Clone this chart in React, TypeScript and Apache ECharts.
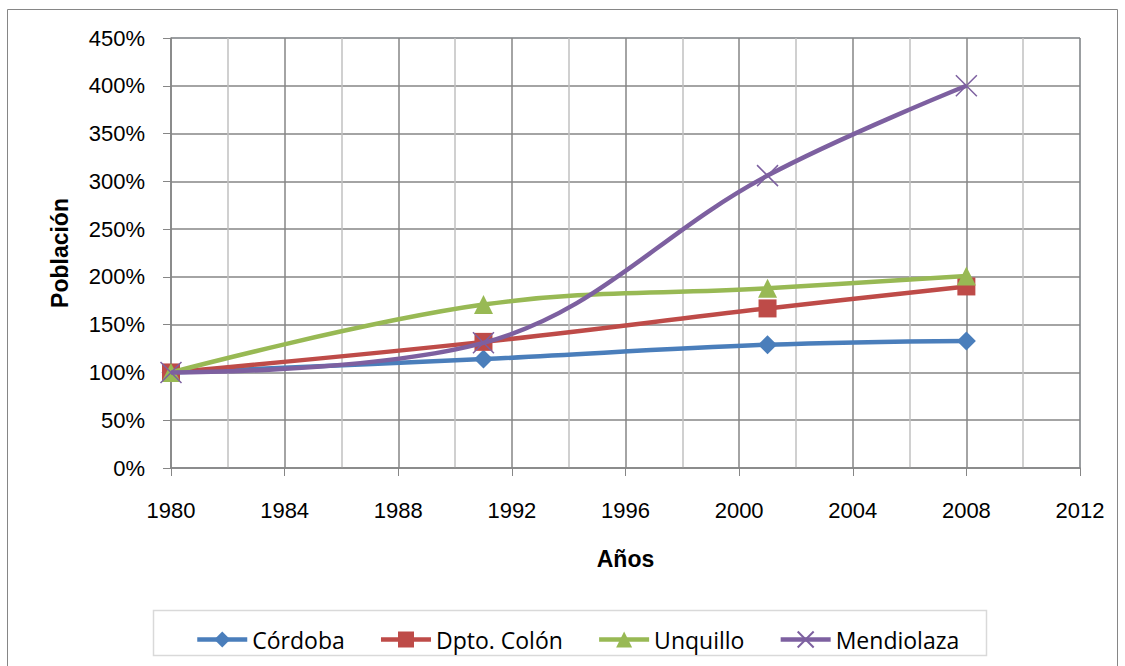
import React, { useEffect, useRef } from "react";
import * as echarts from "echarts";

const years = [1980, 1991, 2001, 2008];
const cordoba = [100, 114, 129, 133];
const colon = [100, 132, 167, 190];
const unquillo = [100, 171, 188, 201];
const mendiolaza = [100, 131, 306, 400];
const seriesNames = ["Córdoba", "Dpto. Colón", "Unquillo", "Mendiolaza"];
const colors = ["#4a7ebb", "#be4b48", "#98b954", "#7d60a0"];

const pairs = (vals: number[]) => years.map((y, i) => [y, vals[i]]);

const AX = "Liberation Sans, Arial, sans-serif";

export default function App() {
  const ref = useRef<HTMLDivElement>(null);
  useEffect(() => {
    const chart = echarts.init(ref.current!, null, { renderer: "svg" });
    const mk = (i: number, vals: number[], symbol: string, size: number, extra: any = {}) => ({
      name: seriesNames[i],
      type: "line",
      data: pairs(vals),
      smooth: 0.38,
      symbol,
      symbolSize: size,
      showAllSymbol: true,
      lineStyle: { width: 4.5, color: colors[i] },
      itemStyle: { color: colors[i], ...extra },
      z: 2 + i,
    });
    chart.setOption({
      animation: false,
      backgroundColor: "#ffffff",
      graphic: [
        {
          type: "rect",
          shape: { x: 7.5, y: 9.5, width: 1110, height: 680 },
          style: { fill: "none", stroke: "#868686", lineWidth: 1 },
          z: -10,
        },
        {
          type: "rect",
          shape: { x: 153.5, y: 610.5, width: 833, height: 45 },
          style: { fill: "#ffffff", stroke: "#d9d9d9", lineWidth: 1.5 },
          z: -5,
        },
      ],
      grid: {
        left: 171,
        right: 45,
        top: 38,
        bottom: 198,
        show: true,
        borderColor: "#b9cde5",
        borderWidth: 1,
      },
      legend: {
        left: 190,
        top: 623,
        itemWidth: 50,
        itemHeight: 20,
        itemGap: 34,
        lineStyle: { width: 4.5 },
        textStyle: { fontFamily: "Open Sans", fontSize: 23, color: "#000" },
        data: seriesNames,
      },
      xAxis: {
        type: "value",
        min: 1980,
        max: 2012,
        interval: 4,
        name: "Años",
        nameLocation: "middle",
        nameGap: 79,
        nameTextStyle: { fontFamily: AX, fontSize: 23, fontWeight: "bold", color: "#000" },
        axisLine: { show: true, lineStyle: { color: "#868686", width: 1.5 } },
        axisTick: { show: true, length: 8, lineStyle: { color: "#868686" } },
        axisLabel: {
          margin: 31,
          fontFamily: AX,
          fontSize: 22,
          color: "#000",
          formatter: (v: number) => String(v),
        },
        splitLine: { show: true, lineStyle: { color: "#868686", width: 1.5 } },
        minorTick: { show: false, splitNumber: 2 },
        minorSplitLine: { show: true, lineStyle: { color: "#c0c0c0", width: 1.5 } },
      },
      yAxis: {
        type: "value",
        min: 0,
        max: 450,
        interval: 50,
        name: "Población",
        nameLocation: "middle",
        nameGap: 100,
        nameTextStyle: { fontFamily: AX, fontSize: 23, fontWeight: "bold", color: "#000" },
        axisLine: { show: true, lineStyle: { color: "#868686", width: 1.5 } },
        axisTick: { show: true, length: 8, lineStyle: { color: "#868686" } },
        axisLabel: { margin: 26, fontFamily: AX, fontSize: 22, color: "#000", formatter: "{value}%" },
        splitLine: { show: true, lineStyle: { color: "#868686", width: 1.5 } },
      },
      series: [
        mk(0, cordoba, "diamond", 19),
        mk(1, colon, "rect", 18),
        mk(2, unquillo, "triangle", 19),
        mk(3, mendiolaza, "path://M0,0L20,20M20,0L0,20", 21, {
          borderColor: colors[3],
          borderWidth: 1.5,
        }),
      ],
    });
    return () => chart.dispose();
  }, []);
  return (
    <div
      ref={ref}
      style={{ position: "fixed", left: 0, top: 0, width: 1125, height: 666 }}
    />
  );
}
